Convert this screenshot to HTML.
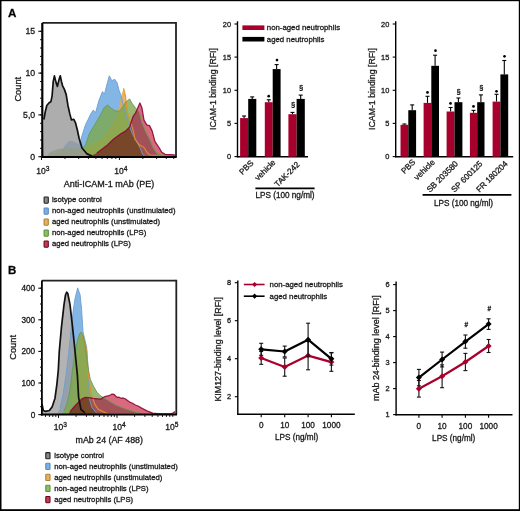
<!DOCTYPE html>
<html><head><meta charset="utf-8"><style>
html,body{margin:0;padding:0;background:#fff;}
svg{display:block;}
text{font-family:"Liberation Sans",sans-serif;stroke:#1a1a1a;stroke-width:0.3px;}
</style></head><body>
<svg width="520" height="511" viewBox="0 0 520 511" font-family="Liberation Sans, sans-serif">
<rect x="0" y="0" width="520" height="511" fill="#fff"/>
<rect x="0" y="0" width="520" height="1.2" fill="#000"/>
<rect x="0" y="0" width="1.5" height="511" fill="#000"/>
<rect x="518.8" y="0" width="1.2" height="511" fill="#000"/>
<rect x="0" y="509.2" width="520" height="1.8" fill="#000"/>
<text x="8" y="16.8" font-size="11.6" font-weight="bold" fill="#000">A</text>
<text x="8" y="274.4" font-size="11.5" font-weight="bold" fill="#000">B</text>
<polygon points="58.0,157.0 62.0,151.0 65.0,145.0 69.0,141.0 73.0,141.0 76.0,143.0 79.0,144.0 80.9,139.3 85.6,124.4 88.4,119.0 90.2,115.0 93.2,110.1 95.6,112.5 99.0,100.3 102.5,91.5 104.4,94.4 107.4,82.7 109.3,75.8 111.8,80.7 114.7,79.3 117.1,82.7 119.1,90.5 121.0,95.4 122.5,102.0 125.5,113.3 128.3,122.6 132.3,133.8 136.4,140.7 140.5,148.9 142.6,154.4 145.0,156.5 150.0,157.0" fill="#78b0e2" fill-opacity="0.92"/>
<polygon points="50.0,157.0 60.0,152.0 70.0,150.0 80.0,149.0 90.0,146.0 100.0,140.0 110.0,128.0 116.0,118.0 119.5,104.0 121.5,95.0 123.6,88.2 125.5,96.0 127.3,111.4 130.3,120.8 133.0,129.7 135.0,139.3 139.2,144.8 144.0,147.5 147.4,153.0 150.1,155.0 176.0,155.5 176.0,157.0" fill="#e0a850" fill-opacity="0.85"/>
<polygon points="46.0,157.0 50.0,152.0 58.0,149.0 68.0,148.0 76.0,148.5 81.9,148.5 85.6,144.8 89.3,133.7 94.9,124.4 100.4,115.1 104.1,107.7 107.8,104.9 110.6,107.7 114.3,110.5 119.0,111.4 122.0,108.0 126.0,102.0 129.6,98.9 132.3,103.7 136.4,109.2 139.2,111.9 141.9,122.9 145.3,131.1 149.5,139.3 152.9,147.5 157.0,153.7 161.1,155.0 170.0,156.0 176.0,157.0" fill="#7da84e" fill-opacity="0.8"/>
<polygon points="43.0,157.0 43.9,119.5 45.2,112.0 46.8,105.5 49.1,102.8 50.9,101.7 52.1,95.8 53.2,81.7 54.4,75.9 56.2,82.9 57.4,86.4 59.1,79.4 60.3,75.9 61.5,81.7 62.6,85.8 64.4,89.4 66.2,94.6 67.9,105.2 69.7,113.4 71.4,119.9 73.8,119.3 75.5,122.8 77.3,129.8 79.1,138.2 82.0,148.0 87.0,153.9 92.0,156.0 100.0,156.5 100.0,157.0" fill="#989898" fill-opacity="0.8"/>
<polygon points="88.0,157.0 96.7,153.2 107.8,144.8 113.4,139.3 120.8,133.7 125.5,131.1 129.6,127.0 133.0,116.7 135.8,112.6 139.9,103.0 141.9,107.8 144.0,120.1 146.7,124.9 149.5,125.6 152.2,131.1 154.9,141.4 159.0,147.5 161.8,152.3 165.2,154.4 174.8,155.0 176.0,157.0" fill="#d86a7e" fill-opacity="1" style="mix-blend-mode:multiply"/>
<defs><clipPath id="cp1"><polygon points="88.0,157.0 96.7,153.2 107.8,144.8 113.4,139.3 120.8,133.7 125.5,131.1 129.6,127.0 133.0,116.7 135.8,112.6 139.9,103.0 141.9,107.8 144.0,120.1 146.7,124.9 149.5,125.6 152.2,131.1 154.9,141.4 159.0,147.5 161.8,152.3 165.2,154.4 174.8,155.0 176.0,157.0"/></clipPath><mask id="mk1" maskUnits="userSpaceOnUse" x="0" y="0" width="520" height="511"><polygon points="46.0,157.0 50.0,152.0 58.0,149.0 68.0,148.0 76.0,148.5 81.9,148.5 85.6,144.8 89.3,133.7 94.9,124.4 100.4,115.1 104.1,107.7 107.8,104.9 110.6,107.7 114.3,110.5 119.0,111.4 122.0,108.0 126.0,102.0 129.6,98.9 132.3,103.7 136.4,109.2 139.2,111.9 141.9,122.9 145.3,131.1 149.5,139.3 152.9,147.5 157.0,153.7 161.1,155.0 170.0,156.0 176.0,157.0" fill="#fff"/><polygon points="58.0,157.0 62.0,151.0 65.0,145.0 69.0,141.0 73.0,141.0 76.0,143.0 79.0,144.0 80.9,139.3 85.6,124.4 88.4,119.0 90.2,115.0 93.2,110.1 95.6,112.5 99.0,100.3 102.5,91.5 104.4,94.4 107.4,82.7 109.3,75.8 111.8,80.7 114.7,79.3 117.1,82.7 119.1,90.5 121.0,95.4 122.5,102.0 125.5,113.3 128.3,122.6 132.3,133.8 136.4,140.7 140.5,148.9 142.6,154.4 145.0,156.5 150.0,157.0" fill="#000"/></mask></defs>
<g clip-path="url(#cp1)"><rect x="0" y="0" width="520" height="511" fill="#a5525c" fill-opacity="0.9" mask="url(#mk1)"/></g>
<polyline points="80.9,139.3 85.6,124.4 88.4,119.0 90.2,115.0 93.2,110.1 95.6,112.5 99.0,100.3 102.5,91.5 104.4,94.4 107.4,82.7 109.3,75.8 111.8,80.7 114.7,79.3 117.1,82.7 119.1,90.5 121.0,95.4 122.5,102.0 125.5,113.3 128.3,122.6 132.3,133.8 136.4,140.7 140.5,148.9 142.6,154.4 145.0,156.5" fill="none" stroke="#6a9ed0" stroke-width="1.0" stroke-linejoin="round" stroke-opacity="0.9"/>
<polyline points="123.6,88.2 125.5,96.0 127.3,111.4 130.3,120.8 133.0,129.7 135.0,139.3 139.2,144.8 144.0,147.5 147.4,153.0 150.1,155.0 176.0,155.5" fill="none" stroke="#e8902a" stroke-width="1.1" stroke-linejoin="round" stroke-opacity="0.9"/>
<polyline points="81.9,148.5 85.6,144.8 89.3,133.7 94.9,124.4 100.4,115.1 104.1,107.7 107.8,104.9 110.6,107.7 114.3,110.5 119.0,111.4 122.0,108.0 126.0,102.0 129.6,98.9 132.3,103.7 136.4,109.2 139.2,111.9 141.9,122.9 145.3,131.1 149.5,139.3 152.9,147.5 157.0,153.7 161.1,155.0 170.0,156.0" fill="none" stroke="#6a9a50" stroke-width="1.0" stroke-linejoin="round" stroke-opacity="0.9"/>
<polyline points="96.7,153.2 107.8,144.8 113.4,139.3 120.8,133.7 125.5,131.1 129.6,127.0 133.0,116.7 135.8,112.6 139.9,103.0 141.9,107.8 144.0,120.1 146.7,124.9 149.5,125.6 152.2,131.1 154.9,141.4 159.0,147.5 161.8,152.3 165.2,154.4 174.8,155.0" fill="none" stroke="#8c0a36" stroke-width="1.3" stroke-linejoin="round" stroke-opacity="0.9"/>
<polyline points="43.9,119.5 45.2,112.0 46.8,105.5 49.1,102.8 50.9,101.7 52.1,95.8 53.2,81.7 54.4,75.9 56.2,82.9 57.4,86.4 59.1,79.4 60.3,75.9 61.5,81.7 62.6,85.8 64.4,89.4 66.2,94.6 67.9,105.2 69.7,113.4 71.4,119.9 73.8,119.3 75.5,122.8 77.3,129.8 79.1,138.2 82.0,148.0 87.0,153.9 92.0,156.0" fill="none" stroke="#111" stroke-width="1.7" stroke-linejoin="round"/>
<line x1="176" y1="22.099999999999998" x2="176" y2="157" stroke="#222" stroke-width="1.8"/>
<line x1="42.3" y1="22.9" x2="176" y2="22.9" stroke="#222" stroke-width="1.6"/>
<line x1="42.3" y1="22.9" x2="42.3" y2="158" stroke="#000" stroke-width="2.2"/>
<line x1="41.3" y1="157" x2="176.7" y2="157" stroke="#000" stroke-width="2"/>
<line x1="38.3" y1="31.3" x2="42" y2="31.3" stroke="#111" stroke-width="1.1"/>
<text x="35.2" y="34.3" font-size="8.7" text-anchor="end" fill="#1a1a1a" >15</text>
<line x1="38.3" y1="73.1" x2="42" y2="73.1" stroke="#111" stroke-width="1.1"/>
<text x="35.2" y="76.1" font-size="8.7" text-anchor="end" fill="#1a1a1a" >10</text>
<line x1="38.3" y1="114.9" x2="42" y2="114.9" stroke="#111" stroke-width="1.1"/>
<text x="35.2" y="117.89999999999999" font-size="8.7" text-anchor="end" fill="#1a1a1a" >5,0</text>
<line x1="38.3" y1="156.7" x2="42" y2="156.7" stroke="#111" stroke-width="1.1"/>
<text x="35.2" y="159.7" font-size="8.7" text-anchor="end" fill="#1a1a1a" >0</text>
<line x1="40" y1="156.7" x2="42" y2="156.7" stroke="#111" stroke-width="1"/>
<line x1="40" y1="148.3" x2="42" y2="148.3" stroke="#111" stroke-width="1"/>
<line x1="40" y1="140.0" x2="42" y2="140.0" stroke="#111" stroke-width="1"/>
<line x1="40" y1="131.6" x2="42" y2="131.6" stroke="#111" stroke-width="1"/>
<line x1="40" y1="123.3" x2="42" y2="123.3" stroke="#111" stroke-width="1"/>
<line x1="40" y1="114.9" x2="42" y2="114.9" stroke="#111" stroke-width="1"/>
<line x1="40" y1="106.5" x2="42" y2="106.5" stroke="#111" stroke-width="1"/>
<line x1="40" y1="98.2" x2="42" y2="98.2" stroke="#111" stroke-width="1"/>
<line x1="40" y1="89.8" x2="42" y2="89.8" stroke="#111" stroke-width="1"/>
<line x1="40" y1="81.5" x2="42" y2="81.5" stroke="#111" stroke-width="1"/>
<line x1="40" y1="73.1" x2="42" y2="73.1" stroke="#111" stroke-width="1"/>
<line x1="40" y1="64.7" x2="42" y2="64.7" stroke="#111" stroke-width="1"/>
<line x1="40" y1="56.4" x2="42" y2="56.4" stroke="#111" stroke-width="1"/>
<line x1="40" y1="48.0" x2="42" y2="48.0" stroke="#111" stroke-width="1"/>
<line x1="40" y1="39.7" x2="42" y2="39.7" stroke="#111" stroke-width="1"/>
<line x1="40" y1="31.3" x2="42" y2="31.3" stroke="#111" stroke-width="1"/>
<line x1="41.5" y1="157" x2="41.5" y2="160" stroke="#111" stroke-width="1"/>
<line x1="65.0" y1="157" x2="65.0" y2="159" stroke="#111" stroke-width="1"/>
<line x1="78.7" y1="157" x2="78.7" y2="159" stroke="#111" stroke-width="1"/>
<line x1="88.4" y1="157" x2="88.4" y2="159" stroke="#111" stroke-width="1"/>
<line x1="95.9" y1="157" x2="95.9" y2="159" stroke="#111" stroke-width="1"/>
<line x1="102.1" y1="157" x2="102.1" y2="159" stroke="#111" stroke-width="1"/>
<line x1="107.3" y1="157" x2="107.3" y2="159" stroke="#111" stroke-width="1"/>
<line x1="111.9" y1="157" x2="111.9" y2="159" stroke="#111" stroke-width="1"/>
<line x1="115.8" y1="157" x2="115.8" y2="159" stroke="#111" stroke-width="1"/>
<line x1="119.4" y1="157" x2="119.4" y2="160" stroke="#111" stroke-width="1"/>
<line x1="142.9" y1="157" x2="142.9" y2="159" stroke="#111" stroke-width="1"/>
<line x1="156.6" y1="157" x2="156.6" y2="159" stroke="#111" stroke-width="1"/>
<line x1="166.3" y1="157" x2="166.3" y2="159" stroke="#111" stroke-width="1"/>
<line x1="173.8" y1="157" x2="173.8" y2="159" stroke="#111" stroke-width="1"/>
<text x="36.2" y="173.8" font-size="8.5" text-anchor="start" fill="#1a1a1a" >10<tspan font-size="6.6" dy="-3.3">3</tspan></text>
<text x="114.2" y="173.8" font-size="8.5" text-anchor="start" fill="#1a1a1a" >10<tspan font-size="6.6" dy="-3.3">4</tspan></text>
<text x="63.8" y="186.8" font-size="9" text-anchor="start" fill="#1a1a1a" >Anti-ICAM-1 mAb (PE)</text>
<text x="20.8" y="89.2" font-size="9.3" text-anchor="middle" fill="#1a1a1a" transform="rotate(-90 20.8 89.2)">Count</text>
<rect x="44.1" y="197.0" width="4.2" height="6.2" rx="0.6" fill="#888" stroke="#222" stroke-width="1.1"/>
<text x="51.9" y="202.2" font-size="7.72" text-anchor="start" fill="#1a1a1a" >isotype control</text>
<rect x="44.1" y="208.0" width="4.2" height="6.2" rx="0.6" fill="#78b0e2" stroke="#5a8ac0" stroke-width="1.1"/>
<text x="51.9" y="213.2" font-size="7.72" text-anchor="start" fill="#1a1a1a" >non-aged neutrophils (unstimulated)</text>
<rect x="44.1" y="219.0" width="4.2" height="6.2" rx="0.6" fill="#e8b060" stroke="#b08030" stroke-width="1.1"/>
<text x="51.9" y="224.2" font-size="7.72" text-anchor="start" fill="#1a1a1a" >aged neutrophils (unstimulated)</text>
<rect x="44.1" y="230.0" width="4.2" height="6.2" rx="0.6" fill="#90c060" stroke="#5a9040" stroke-width="1.1"/>
<text x="51.9" y="235.2" font-size="7.72" text-anchor="start" fill="#1a1a1a" >non-aged neutrophils (LPS)</text>
<rect x="44.1" y="241.0" width="4.2" height="6.2" rx="0.6" fill="#c04050" stroke="#700020" stroke-width="1.1"/>
<text x="51.9" y="246.2" font-size="7.72" text-anchor="start" fill="#1a1a1a" >aged neutrophils (LPS)</text>
<line x1="237.5" y1="21.3" x2="237.5" y2="157.2" stroke="#000" stroke-width="1.4"/>
<line x1="236.8" y1="156.7" x2="308" y2="156.7" stroke="#000" stroke-width="1.4"/>
<line x1="234.5" y1="156.6" x2="237.5" y2="156.6" stroke="#000" stroke-width="1.1"/>
<text x="231.1" y="159.29999999999998" font-size="7.4" text-anchor="end" fill="#1a1a1a" >0</text>
<line x1="234.5" y1="123.4" x2="237.5" y2="123.4" stroke="#000" stroke-width="1.1"/>
<text x="231.1" y="126.14999999999999" font-size="7.4" text-anchor="end" fill="#1a1a1a" >5</text>
<line x1="234.5" y1="90.3" x2="237.5" y2="90.3" stroke="#000" stroke-width="1.1"/>
<text x="231.1" y="93.0" font-size="7.4" text-anchor="end" fill="#1a1a1a" >10</text>
<line x1="234.5" y1="57.1" x2="237.5" y2="57.1" stroke="#000" stroke-width="1.1"/>
<text x="231.1" y="59.849999999999994" font-size="7.4" text-anchor="end" fill="#1a1a1a" >15</text>
<line x1="234.5" y1="24.0" x2="237.5" y2="24.0" stroke="#000" stroke-width="1.1"/>
<text x="231.1" y="26.7" font-size="7.4" text-anchor="end" fill="#1a1a1a" >20</text>
<line x1="244.1" y1="116.0" x2="244.1" y2="118.1" stroke="#000" stroke-width="1.1"/>
<line x1="242.1" y1="116.0" x2="246.1" y2="116.0" stroke="#000" stroke-width="1.1"/>
<rect x="240.1" y="118.1" width="8.1" height="38.6" fill="#a8002c"/>
<line x1="252.2" y1="96.9" x2="252.2" y2="98.9" stroke="#000" stroke-width="1.1"/>
<line x1="250.2" y1="96.9" x2="254.2" y2="96.9" stroke="#000" stroke-width="1.1"/>
<rect x="248.2" y="98.9" width="8.1" height="57.8" fill="#000"/>
<line x1="268.8" y1="99.8" x2="268.8" y2="102.2" stroke="#000" stroke-width="1.1"/>
<line x1="266.8" y1="99.8" x2="270.8" y2="99.8" stroke="#000" stroke-width="1.1"/>
<rect x="264.8" y="102.2" width="7.9" height="54.5" fill="#a8002c"/>
<line x1="276.6" y1="64.6" x2="276.6" y2="69.1" stroke="#000" stroke-width="1.1"/>
<line x1="274.6" y1="64.6" x2="278.6" y2="64.6" stroke="#000" stroke-width="1.1"/>
<rect x="272.7" y="69.1" width="7.9" height="87.6" fill="#000"/>
<line x1="292.5" y1="112.4" x2="292.5" y2="114.2" stroke="#000" stroke-width="1.1"/>
<line x1="290.5" y1="112.4" x2="294.5" y2="112.4" stroke="#000" stroke-width="1.1"/>
<rect x="288.4" y="114.2" width="8.2" height="42.5" fill="#a8002c"/>
<line x1="300.7" y1="95.1" x2="300.7" y2="98.9" stroke="#000" stroke-width="1.1"/>
<line x1="298.7" y1="95.1" x2="302.7" y2="95.1" stroke="#000" stroke-width="1.1"/>
<rect x="296.6" y="98.9" width="8.2" height="57.8" fill="#000"/>
<circle cx="268.7" cy="96.2" r="1.35" fill="#000"/>
<circle cx="277" cy="60.1" r="1.35" fill="#000"/>
<text x="293.1" y="106.8" font-size="7.6" text-anchor="middle" fill="#222" >§</text>
<text x="301.1" y="89.8" font-size="7.6" text-anchor="middle" fill="#222" >§</text>
<text x="254.1" y="163.6" font-size="8.2" text-anchor="end" fill="#1a1a1a" transform="rotate(-45 254.1 163.6)">PBS</text>
<text x="276.1" y="163" font-size="8.2" text-anchor="end" fill="#1a1a1a" transform="rotate(-45 276.1 163)">vehicle</text>
<text x="300.2" y="165" font-size="8.2" text-anchor="end" fill="#1a1a1a" transform="rotate(-45 300.2 165)">TAK-242</text>
<line x1="255.4" y1="188.4" x2="314.6" y2="188.4" stroke="#000" stroke-width="1.7"/>
<text x="285" y="198.3" font-size="8.2" text-anchor="middle" fill="#1a1a1a" >LPS (100 ng/ml)</text>
<text x="215.8" y="89" font-size="8.8" text-anchor="middle" fill="#1a1a1a" textLength="82" lengthAdjust="spacingAndGlyphs" transform="rotate(-90 215.8 89)">ICAM-1 binding [RFI]</text>
<rect x="242.4" y="25.4" width="22" height="4.6" fill="#a8002c"/>
<rect x="242.4" y="36.9" width="22" height="4.6" fill="#000"/>
<text x="266.8" y="30.2" font-size="7.8" text-anchor="start" fill="#1a1a1a" >non-aged neutrophils</text>
<text x="266.8" y="41.6" font-size="7.8" text-anchor="start" fill="#1a1a1a" >aged neutrophils</text>
<line x1="395.7" y1="21.3" x2="395.7" y2="157.2" stroke="#000" stroke-width="1.4"/>
<line x1="395.0" y1="156.7" x2="513.2" y2="156.7" stroke="#000" stroke-width="1.4"/>
<line x1="392.7" y1="156.6" x2="395.7" y2="156.6" stroke="#000" stroke-width="1.1"/>
<text x="389.3" y="159.29999999999998" font-size="7.4" text-anchor="end" fill="#1a1a1a" >0</text>
<line x1="392.7" y1="123.4" x2="395.7" y2="123.4" stroke="#000" stroke-width="1.1"/>
<text x="389.3" y="126.14999999999999" font-size="7.4" text-anchor="end" fill="#1a1a1a" >5</text>
<line x1="392.7" y1="90.3" x2="395.7" y2="90.3" stroke="#000" stroke-width="1.1"/>
<text x="389.3" y="93.0" font-size="7.4" text-anchor="end" fill="#1a1a1a" >10</text>
<line x1="392.7" y1="57.1" x2="395.7" y2="57.1" stroke="#000" stroke-width="1.1"/>
<text x="389.3" y="59.849999999999994" font-size="7.4" text-anchor="end" fill="#1a1a1a" >15</text>
<line x1="392.7" y1="24.0" x2="395.7" y2="24.0" stroke="#000" stroke-width="1.1"/>
<text x="389.3" y="26.7" font-size="7.4" text-anchor="end" fill="#1a1a1a" >20</text>
<line x1="404.4" y1="124.0" x2="404.4" y2="124.8" stroke="#000" stroke-width="1.1"/>
<line x1="402.4" y1="124.0" x2="406.4" y2="124.0" stroke="#000" stroke-width="1.1"/>
<rect x="400.5" y="124.8" width="7.8" height="31.9" fill="#a8002c"/>
<line x1="412.2" y1="104.9" x2="412.2" y2="110.2" stroke="#000" stroke-width="1.1"/>
<line x1="410.2" y1="104.9" x2="414.2" y2="104.9" stroke="#000" stroke-width="1.1"/>
<rect x="408.3" y="110.2" width="7.8" height="46.5" fill="#000"/>
<line x1="427.5" y1="96.3" x2="427.5" y2="102.9" stroke="#000" stroke-width="1.1"/>
<line x1="425.5" y1="96.3" x2="429.5" y2="96.3" stroke="#000" stroke-width="1.1"/>
<rect x="423.6" y="102.9" width="7.7" height="53.8" fill="#a8002c"/>
<line x1="435.1" y1="55.2" x2="435.1" y2="65.8" stroke="#000" stroke-width="1.1"/>
<line x1="433.1" y1="55.2" x2="437.1" y2="55.2" stroke="#000" stroke-width="1.1"/>
<rect x="431.3" y="65.8" width="7.7" height="90.9" fill="#000"/>
<line x1="450.6" y1="107.5" x2="450.6" y2="111.5" stroke="#000" stroke-width="1.1"/>
<line x1="448.6" y1="107.5" x2="452.6" y2="107.5" stroke="#000" stroke-width="1.1"/>
<rect x="446.6" y="111.5" width="7.9" height="45.2" fill="#a8002c"/>
<line x1="458.4" y1="98.0" x2="458.4" y2="102.2" stroke="#000" stroke-width="1.1"/>
<line x1="456.4" y1="98.0" x2="460.4" y2="98.0" stroke="#000" stroke-width="1.1"/>
<rect x="454.5" y="102.2" width="7.9" height="54.5" fill="#000"/>
<line x1="473.5" y1="110.4" x2="473.5" y2="112.8" stroke="#000" stroke-width="1.1"/>
<line x1="471.5" y1="110.4" x2="475.5" y2="110.4" stroke="#000" stroke-width="1.1"/>
<rect x="469.9" y="112.8" width="7.3" height="43.9" fill="#a8002c"/>
<line x1="480.9" y1="94.9" x2="480.9" y2="102.2" stroke="#000" stroke-width="1.1"/>
<line x1="478.9" y1="94.9" x2="482.9" y2="94.9" stroke="#000" stroke-width="1.1"/>
<rect x="477.2" y="102.2" width="7.3" height="54.5" fill="#000"/>
<line x1="496.5" y1="94.3" x2="496.5" y2="101.6" stroke="#000" stroke-width="1.1"/>
<line x1="494.5" y1="94.3" x2="498.5" y2="94.3" stroke="#000" stroke-width="1.1"/>
<rect x="492.6" y="101.6" width="7.8" height="55.1" fill="#a8002c"/>
<line x1="504.3" y1="60.5" x2="504.3" y2="74.4" stroke="#000" stroke-width="1.1"/>
<line x1="502.3" y1="60.5" x2="506.3" y2="60.5" stroke="#000" stroke-width="1.1"/>
<rect x="500.4" y="74.4" width="7.8" height="82.3" fill="#000"/>
<circle cx="427.5" cy="92.4" r="1.35" fill="#000"/>
<circle cx="435.5" cy="50.699999999999996" r="1.35" fill="#000"/>
<circle cx="450.5" cy="103.4" r="1.35" fill="#000"/>
<circle cx="473.5" cy="106.4" r="1.35" fill="#000"/>
<circle cx="496.5" cy="91.30000000000001" r="1.35" fill="#000"/>
<circle cx="504.5" cy="56.3" r="1.35" fill="#000"/>
<text x="458.5" y="93.6" font-size="7.6" text-anchor="middle" fill="#222" >§</text>
<text x="481.3" y="90.3" font-size="7.6" text-anchor="middle" fill="#222" >§</text>
<text x="416" y="162.7" font-size="8.2" text-anchor="end" fill="#1a1a1a" transform="rotate(-45 416 162.7)">PBS</text>
<text x="435.4" y="162.7" font-size="8.2" text-anchor="end" fill="#1a1a1a" transform="rotate(-45 435.4 162.7)">vehicle</text>
<text x="458.6" y="164.2" font-size="8.2" text-anchor="end" fill="#1a1a1a" transform="rotate(-45 458.6 164.2)">SB 203580</text>
<text x="483.1" y="164.2" font-size="8.2" text-anchor="end" fill="#1a1a1a" transform="rotate(-45 483.1 164.2)">SP 600125</text>
<text x="508.2" y="164.2" font-size="8.2" text-anchor="end" fill="#1a1a1a" transform="rotate(-45 508.2 164.2)">FR 180204</text>
<line x1="422.6" y1="194.8" x2="511.4" y2="194.8" stroke="#000" stroke-width="1.7"/>
<text x="463.5" y="205.6" font-size="8.2" text-anchor="middle" fill="#1a1a1a" >LPS (100 ng/ml)</text>
<text x="375.2" y="89" font-size="8.8" text-anchor="middle" fill="#1a1a1a" textLength="82" lengthAdjust="spacingAndGlyphs" transform="rotate(-90 375.2 89)">ICAM-1 binding [RFI]</text>
<polygon points="57.0,414.3 60.0,408.0 63.0,395.0 66.0,375.0 69.0,350.0 71.5,325.0 73.3,310.0 75.2,297.7 77.7,287.9 80.1,294.8 81.6,309.5 83.0,332.0 86.7,347.6 88.5,374.1 89.4,398.8 92.0,407.6 96.4,412.9 100.0,414.3" fill="#78b0e2" fill-opacity="0.92"/>
<polygon points="64.0,414.3 70.0,405.0 74.0,385.0 77.0,360.0 79.5,340.0 81.5,335.0 84.0,339.0 86.7,351.2 88.5,375.8 91.1,393.5 94.7,404.1 98.2,409.4 107.3,413.6 175.0,413.8 175.0,414.3" fill="#e0a850" fill-opacity="0.85"/>
<polygon points="42.0,414.3 42.0,404.0 43.3,410.5 45.6,411.4 49.4,410.5 52.2,406.7 55.0,398.2 56.9,384.1 58.3,370.0 59.3,351.0 61.5,326.6 64.0,304.6 65.5,295.0 66.6,292.2 67.8,293.5 70.0,304.6 72.5,326.6 75.0,351.0 77.4,375.4 78.6,397.3 81.0,409.5 85.0,412.9 95.0,414.0 95.0,414.3" fill="#999999" fill-opacity="0.75"/>
<polygon points="61.0,414.3 64.0,411.0 67.0,404.0 70.0,390.0 72.6,369.0 75.0,352.0 77.5,340.0 79.5,334.0 81.2,332.0 83.0,336.0 85.0,344.1 87.6,365.3 90.3,379.4 93.5,386.2 96.9,392.2 100.4,395.7 103.0,397.4 107.3,400.0 116.0,405.2 124.6,408.7 135.0,412.1 142.0,413.8 150.0,414.3" fill="#7da84e" fill-opacity="0.8"/>
<polygon points="68.0,414.3 70.0,411.7 75.8,405.0 81.5,399.2 85.4,397.3 89.0,397.6 93.0,398.3 97.0,398.8 100.8,399.2 103.0,397.5 105.6,396.3 108.0,395.8 110.4,395.0 112.0,394.2 114.2,394.4 115.5,396.0 117.1,397.3 119.0,397.2 121.0,398.3 123.0,398.0 125.8,399.2 129.6,402.1 132.0,403.0 135.4,405.0 138.0,406.0 141.2,407.9 146.9,410.8 152.7,413.1 160.4,414.0 170.0,414.0 173.0,413.0 175.0,411.5 175.5,414.3" fill="#d86a7e" fill-opacity="1" style="mix-blend-mode:multiply"/>
<defs><clipPath id="cp2"><polygon points="68.0,414.3 70.0,411.7 75.8,405.0 81.5,399.2 85.4,397.3 89.0,397.6 93.0,398.3 97.0,398.8 100.8,399.2 103.0,397.5 105.6,396.3 108.0,395.8 110.4,395.0 112.0,394.2 114.2,394.4 115.5,396.0 117.1,397.3 119.0,397.2 121.0,398.3 123.0,398.0 125.8,399.2 129.6,402.1 132.0,403.0 135.4,405.0 138.0,406.0 141.2,407.9 146.9,410.8 152.7,413.1 160.4,414.0 170.0,414.0 173.0,413.0 175.0,411.5 175.5,414.3"/></clipPath><mask id="mk2" maskUnits="userSpaceOnUse" x="0" y="0" width="520" height="511"><polygon points="61.0,414.3 64.0,411.0 67.0,404.0 70.0,390.0 72.6,369.0 75.0,352.0 77.5,340.0 79.5,334.0 81.2,332.0 83.0,336.0 85.0,344.1 87.6,365.3 90.3,379.4 93.5,386.2 96.9,392.2 100.4,395.7 103.0,397.4 107.3,400.0 116.0,405.2 124.6,408.7 135.0,412.1 142.0,413.8 150.0,414.3" fill="#fff"/><polygon points="57.0,414.3 60.0,408.0 63.0,395.0 66.0,375.0 69.0,350.0 71.5,325.0 73.3,310.0 75.2,297.7 77.7,287.9 80.1,294.8 81.6,309.5 83.0,332.0 86.7,347.6 88.5,374.1 89.4,398.8 92.0,407.6 96.4,412.9 100.0,414.3" fill="#000"/></mask></defs>
<g clip-path="url(#cp2)"><rect x="0" y="0" width="520" height="511" fill="#a5525c" fill-opacity="0.9" mask="url(#mk2)"/></g>
<polyline points="60.0,408.0 63.0,395.0 66.0,375.0 69.0,350.0 71.5,325.0 73.3,310.0 75.2,297.7 77.7,287.9 80.1,294.8 81.6,309.5 83.0,332.0 86.7,347.6 88.5,374.1 89.4,398.8 92.0,407.6 96.4,412.9" fill="none" stroke="#6a9ed0" stroke-width="1.0" stroke-linejoin="round" stroke-opacity="0.9"/>
<polyline points="81.5,335.0 84.0,339.0 86.7,351.2 88.5,375.8 91.1,393.5 94.7,404.1 98.2,409.4 107.3,413.6 175.0,413.8" fill="none" stroke="#e8902a" stroke-width="1.2" stroke-linejoin="round" stroke-opacity="0.9"/>
<polyline points="64.0,411.0 67.0,404.0 70.0,390.0 72.6,369.0 75.0,352.0 77.5,340.0 79.5,334.0 81.2,332.0 83.0,336.0 85.0,344.1 87.6,365.3 90.3,379.4 93.5,386.2 96.9,392.2 100.4,395.7 103.0,397.4 107.3,400.0 116.0,405.2 124.6,408.7 135.0,412.1 142.0,413.8" fill="none" stroke="#6a9a50" stroke-width="1.0" stroke-linejoin="round" stroke-opacity="0.9"/>
<polyline points="70.0,411.7 75.8,405.0 81.5,399.2 85.4,397.3 89.0,397.6 93.0,398.3 97.0,398.8 100.8,399.2 103.0,397.5 105.6,396.3 108.0,395.8 110.4,395.0 112.0,394.2 114.2,394.4 115.5,396.0 117.1,397.3 119.0,397.2 121.0,398.3 123.0,398.0 125.8,399.2 129.6,402.1 132.0,403.0 135.4,405.0 138.0,406.0 141.2,407.9 146.9,410.8 152.7,413.1 160.4,414.0 170.0,414.0 173.0,413.0 175.0,411.5" fill="none" stroke="#8c0a36" stroke-width="1.3" stroke-linejoin="round" stroke-opacity="0.9"/>
<polyline points="42.0,404.0 43.3,410.5 45.6,411.4 49.4,410.5 52.2,406.7 55.0,398.2 56.9,384.1 58.3,370.0 59.3,351.0 61.5,326.6 64.0,304.6 65.5,295.0 66.6,292.2 67.8,293.5 70.0,304.6 72.5,326.6 75.0,351.0 77.4,375.4 78.6,397.3 81.0,409.5 85.0,412.9" fill="none" stroke="#111" stroke-width="1.7" stroke-linejoin="round"/>
<line x1="176.3" y1="279.8" x2="176.3" y2="414.4" stroke="#222" stroke-width="1.8"/>
<line x1="41.9" y1="280.6" x2="176.3" y2="280.6" stroke="#222" stroke-width="1.6"/>
<line x1="41.9" y1="280.6" x2="41.9" y2="415.4" stroke="#000" stroke-width="1.8"/>
<line x1="40.9" y1="414.4" x2="177.0" y2="414.4" stroke="#000" stroke-width="2"/>
<line x1="38.3" y1="414.6" x2="42" y2="414.6" stroke="#111" stroke-width="1.1"/>
<text x="35.2" y="417.5" font-size="8.2" text-anchor="end" fill="#1a1a1a" >0</text>
<line x1="38.3" y1="383.0" x2="42" y2="383.0" stroke="#111" stroke-width="1.1"/>
<text x="35.2" y="385.9" font-size="8.2" text-anchor="end" fill="#1a1a1a" >100</text>
<line x1="38.3" y1="351.4" x2="42" y2="351.4" stroke="#111" stroke-width="1.1"/>
<text x="35.2" y="354.3" font-size="8.2" text-anchor="end" fill="#1a1a1a" >200</text>
<line x1="38.3" y1="319.8" x2="42" y2="319.8" stroke="#111" stroke-width="1.1"/>
<text x="35.2" y="322.7" font-size="8.2" text-anchor="end" fill="#1a1a1a" >300</text>
<line x1="38.3" y1="288.2" x2="42" y2="288.2" stroke="#111" stroke-width="1.1"/>
<text x="35.2" y="291.1" font-size="8.2" text-anchor="end" fill="#1a1a1a" >400</text>
<line x1="40" y1="414.6" x2="42" y2="414.6" stroke="#111" stroke-width="1"/>
<line x1="40" y1="406.7" x2="42" y2="406.7" stroke="#111" stroke-width="1"/>
<line x1="40" y1="398.8" x2="42" y2="398.8" stroke="#111" stroke-width="1"/>
<line x1="40" y1="390.9" x2="42" y2="390.9" stroke="#111" stroke-width="1"/>
<line x1="40" y1="383.0" x2="42" y2="383.0" stroke="#111" stroke-width="1"/>
<line x1="40" y1="375.1" x2="42" y2="375.1" stroke="#111" stroke-width="1"/>
<line x1="40" y1="367.2" x2="42" y2="367.2" stroke="#111" stroke-width="1"/>
<line x1="40" y1="359.3" x2="42" y2="359.3" stroke="#111" stroke-width="1"/>
<line x1="40" y1="351.4" x2="42" y2="351.4" stroke="#111" stroke-width="1"/>
<line x1="40" y1="343.5" x2="42" y2="343.5" stroke="#111" stroke-width="1"/>
<line x1="40" y1="335.6" x2="42" y2="335.6" stroke="#111" stroke-width="1"/>
<line x1="40" y1="327.7" x2="42" y2="327.7" stroke="#111" stroke-width="1"/>
<line x1="40" y1="319.8" x2="42" y2="319.8" stroke="#111" stroke-width="1"/>
<line x1="40" y1="311.9" x2="42" y2="311.9" stroke="#111" stroke-width="1"/>
<line x1="40" y1="304.0" x2="42" y2="304.0" stroke="#111" stroke-width="1"/>
<line x1="40" y1="296.1" x2="42" y2="296.1" stroke="#111" stroke-width="1"/>
<line x1="40" y1="288.2" x2="42" y2="288.2" stroke="#111" stroke-width="1"/>
<line x1="45.5" y1="414.4" x2="45.5" y2="416.9" stroke="#111" stroke-width="1"/>
<line x1="49.4" y1="414.4" x2="49.4" y2="416.9" stroke="#111" stroke-width="1"/>
<line x1="52.8" y1="414.4" x2="52.8" y2="416.9" stroke="#111" stroke-width="1"/>
<line x1="55.8" y1="414.4" x2="55.8" y2="416.9" stroke="#111" stroke-width="1"/>
<line x1="58.5" y1="414.4" x2="58.5" y2="417.9" stroke="#111" stroke-width="1"/>
<line x1="76.1" y1="414.4" x2="76.1" y2="416.9" stroke="#111" stroke-width="1"/>
<line x1="86.4" y1="414.4" x2="86.4" y2="416.9" stroke="#111" stroke-width="1"/>
<line x1="93.7" y1="414.4" x2="93.7" y2="416.9" stroke="#111" stroke-width="1"/>
<line x1="99.4" y1="414.4" x2="99.4" y2="416.9" stroke="#111" stroke-width="1"/>
<line x1="104.0" y1="414.4" x2="104.0" y2="416.9" stroke="#111" stroke-width="1"/>
<line x1="107.9" y1="414.4" x2="107.9" y2="416.9" stroke="#111" stroke-width="1"/>
<line x1="111.3" y1="414.4" x2="111.3" y2="416.9" stroke="#111" stroke-width="1"/>
<line x1="114.3" y1="414.4" x2="114.3" y2="416.9" stroke="#111" stroke-width="1"/>
<line x1="117.0" y1="414.4" x2="117.0" y2="417.9" stroke="#111" stroke-width="1"/>
<line x1="134.6" y1="414.4" x2="134.6" y2="416.9" stroke="#111" stroke-width="1"/>
<line x1="144.9" y1="414.4" x2="144.9" y2="416.9" stroke="#111" stroke-width="1"/>
<line x1="152.2" y1="414.4" x2="152.2" y2="416.9" stroke="#111" stroke-width="1"/>
<line x1="157.9" y1="414.4" x2="157.9" y2="416.9" stroke="#111" stroke-width="1"/>
<line x1="162.5" y1="414.4" x2="162.5" y2="416.9" stroke="#111" stroke-width="1"/>
<line x1="166.4" y1="414.4" x2="166.4" y2="416.9" stroke="#111" stroke-width="1"/>
<line x1="169.8" y1="414.4" x2="169.8" y2="416.9" stroke="#111" stroke-width="1"/>
<line x1="172.8" y1="414.4" x2="172.8" y2="416.9" stroke="#111" stroke-width="1"/>
<text x="53.8" y="430" font-size="8.5" text-anchor="start" fill="#1a1a1a" >10<tspan font-size="6.6" dy="-3.3">3</tspan></text>
<text x="112.5" y="430" font-size="8.5" text-anchor="start" fill="#1a1a1a" >10<tspan font-size="6.6" dy="-3.3">4</tspan></text>
<text x="165.2" y="430" font-size="8.5" text-anchor="start" fill="#1a1a1a" >10<tspan font-size="6.6" dy="-3.3">5</tspan></text>
<text x="75.6" y="443" font-size="8.85" text-anchor="start" fill="#1a1a1a" >mAb 24 (AF 488)</text>
<text x="16.1" y="347.4" font-size="9.3" text-anchor="middle" fill="#1a1a1a" transform="rotate(-90 16.1 347.4)">Count</text>
<rect x="45.800000000000004" y="452.6" width="4.2" height="6.2" rx="0.6" fill="#888" stroke="#222" stroke-width="1.1"/>
<text x="54.2" y="457.8" font-size="7.72" text-anchor="start" fill="#1a1a1a" >isotype control</text>
<rect x="45.800000000000004" y="463.3" width="4.2" height="6.2" rx="0.6" fill="#78b0e2" stroke="#5a8ac0" stroke-width="1.1"/>
<text x="54.2" y="468.5" font-size="7.72" text-anchor="start" fill="#1a1a1a" >non-aged neutrophils (unstimulated)</text>
<rect x="45.800000000000004" y="474.3" width="4.2" height="6.2" rx="0.6" fill="#e8b060" stroke="#b08030" stroke-width="1.1"/>
<text x="54.2" y="479.5" font-size="7.72" text-anchor="start" fill="#1a1a1a" >aged neutrophils (unstimulated)</text>
<rect x="45.800000000000004" y="485.3" width="4.2" height="6.2" rx="0.6" fill="#90c060" stroke="#5a9040" stroke-width="1.1"/>
<text x="54.2" y="490.5" font-size="7.72" text-anchor="start" fill="#1a1a1a" >non-aged neutrophils (LPS)</text>
<rect x="45.800000000000004" y="496.5" width="4.2" height="6.2" rx="0.6" fill="#c04050" stroke="#700020" stroke-width="1.1"/>
<text x="54.2" y="501.7" font-size="7.72" text-anchor="start" fill="#1a1a1a" >aged neutrophils (LPS)</text>
<line x1="237.8" y1="280.4" x2="237.8" y2="415.0" stroke="#000" stroke-width="1.4"/>
<line x1="237.10000000000002" y1="414.3" x2="354.8" y2="414.3" stroke="#000" stroke-width="1.4"/>
<line x1="234.8" y1="396.7" x2="237.8" y2="396.7" stroke="#000" stroke-width="1.1"/>
<text x="231.20000000000002" y="399.4" font-size="7.4" text-anchor="end" fill="#1a1a1a" >2</text>
<line x1="234.8" y1="358.7" x2="237.8" y2="358.7" stroke="#000" stroke-width="1.1"/>
<text x="231.20000000000002" y="361.4" font-size="7.4" text-anchor="end" fill="#1a1a1a" >4</text>
<line x1="234.8" y1="320.7" x2="237.8" y2="320.7" stroke="#000" stroke-width="1.1"/>
<text x="231.20000000000002" y="323.4" font-size="7.4" text-anchor="end" fill="#1a1a1a" >6</text>
<line x1="234.8" y1="282.7" x2="237.8" y2="282.7" stroke="#000" stroke-width="1.1"/>
<text x="231.20000000000002" y="285.4" font-size="7.4" text-anchor="end" fill="#1a1a1a" >8</text>
<line x1="261.2" y1="414.3" x2="261.2" y2="417.3" stroke="#000" stroke-width="1.1"/>
<text x="261.2" y="428.3" font-size="8.2" text-anchor="middle" fill="#1a1a1a" >0</text>
<line x1="284.7" y1="414.3" x2="284.7" y2="417.3" stroke="#000" stroke-width="1.1"/>
<text x="284.7" y="428.3" font-size="8.2" text-anchor="middle" fill="#1a1a1a" >10</text>
<line x1="308.1" y1="414.3" x2="308.1" y2="417.3" stroke="#000" stroke-width="1.1"/>
<text x="308.1" y="428.3" font-size="8.2" text-anchor="middle" fill="#1a1a1a" >100</text>
<line x1="331.4" y1="414.3" x2="331.4" y2="417.3" stroke="#000" stroke-width="1.1"/>
<text x="331.4" y="428.3" font-size="8.2" text-anchor="middle" fill="#1a1a1a" >1000</text>
<line x1="261.2" y1="351.5" x2="261.2" y2="364.3" stroke="#111" stroke-width="1.1"/>
<line x1="259.2" y1="351.5" x2="263.2" y2="351.5" stroke="#111" stroke-width="1.1"/>
<line x1="259.2" y1="364.3" x2="263.2" y2="364.3" stroke="#111" stroke-width="1.1"/>
<line x1="284.7" y1="358.0" x2="284.7" y2="376.2" stroke="#111" stroke-width="1.1"/>
<line x1="282.7" y1="358.0" x2="286.7" y2="358.0" stroke="#111" stroke-width="1.1"/>
<line x1="282.7" y1="376.2" x2="286.7" y2="376.2" stroke="#111" stroke-width="1.1"/>
<line x1="308.1" y1="341.4" x2="308.1" y2="369.8" stroke="#111" stroke-width="1.1"/>
<line x1="306.1" y1="341.4" x2="310.1" y2="341.4" stroke="#111" stroke-width="1.1"/>
<line x1="306.1" y1="369.8" x2="310.1" y2="369.8" stroke="#111" stroke-width="1.1"/>
<line x1="331.4" y1="352.9" x2="331.4" y2="371.3" stroke="#111" stroke-width="1.1"/>
<line x1="329.4" y1="352.9" x2="333.4" y2="352.9" stroke="#111" stroke-width="1.1"/>
<line x1="329.4" y1="371.3" x2="333.4" y2="371.3" stroke="#111" stroke-width="1.1"/>
<polyline points="261.2,357.9 284.7,367.1 308.1,355.6 331.4,362.1" fill="none" stroke="#a8002c" stroke-width="2.2" stroke-linejoin="round"/>
<polygon points="261.2,354.9 264.2,357.9 261.2,360.9 258.2,357.9" fill="#a8002c"/>
<polygon points="284.7,364.1 287.7,367.1 284.7,370.1 281.7,367.1" fill="#a8002c"/>
<polygon points="308.1,352.6 311.1,355.6 308.1,358.6 305.1,355.6" fill="#a8002c"/>
<polygon points="331.4,359.1 334.4,362.1 331.4,365.1 328.4,362.1" fill="#a8002c"/>
<line x1="261.2" y1="343.3" x2="261.2" y2="355.3" stroke="#111" stroke-width="1.1"/>
<line x1="259.2" y1="343.3" x2="263.2" y2="343.3" stroke="#111" stroke-width="1.1"/>
<line x1="259.2" y1="355.3" x2="263.2" y2="355.3" stroke="#111" stroke-width="1.1"/>
<line x1="284.7" y1="346.1" x2="284.7" y2="356.9" stroke="#111" stroke-width="1.1"/>
<line x1="282.7" y1="346.1" x2="286.7" y2="346.1" stroke="#111" stroke-width="1.1"/>
<line x1="282.7" y1="356.9" x2="286.7" y2="356.9" stroke="#111" stroke-width="1.1"/>
<line x1="308.1" y1="323.2" x2="308.1" y2="356.2" stroke="#111" stroke-width="1.1"/>
<line x1="306.1" y1="323.2" x2="310.1" y2="323.2" stroke="#111" stroke-width="1.1"/>
<line x1="306.1" y1="356.2" x2="310.1" y2="356.2" stroke="#111" stroke-width="1.1"/>
<line x1="331.4" y1="352.5" x2="331.4" y2="365.1" stroke="#111" stroke-width="1.1"/>
<line x1="329.4" y1="352.5" x2="333.4" y2="352.5" stroke="#111" stroke-width="1.1"/>
<line x1="329.4" y1="365.1" x2="333.4" y2="365.1" stroke="#111" stroke-width="1.1"/>
<polyline points="261.2,349.3 284.7,351.5 308.1,339.7 331.4,358.8" fill="none" stroke="#000" stroke-width="2.2" stroke-linejoin="round"/>
<polygon points="261.2,346.3 264.2,349.3 261.2,352.3 258.2,349.3" fill="#000"/>
<polygon points="284.7,348.5 287.7,351.5 284.7,354.5 281.7,351.5" fill="#000"/>
<polygon points="308.1,336.7 311.1,339.7 308.1,342.7 305.1,339.7" fill="#000"/>
<polygon points="331.4,355.8 334.4,358.8 331.4,361.8 328.4,358.8" fill="#000"/>
<text x="220.8" y="349.3" font-size="8.9" text-anchor="middle" fill="#1a1a1a" textLength="104.6" lengthAdjust="spacingAndGlyphs" transform="rotate(-90 220.8 349.3)">KIM127-binding level [RFI]</text>
<text x="296.6" y="440.3" font-size="8.2" text-anchor="middle" fill="#1a1a1a" >LPS (ng/ml)</text>
<line x1="243.8" y1="284.5" x2="264.6" y2="284.5" stroke="#a8002c" stroke-width="1.6"/>
<polygon points="254.6,281.9 257.2,284.5 254.6,287.1 252.0,284.5" fill="#a8002c"/>
<line x1="243.8" y1="296.2" x2="264.6" y2="296.2" stroke="#000" stroke-width="1.6"/>
<polygon points="254.6,293.59999999999997 257.2,296.2 254.6,298.8 252.0,296.2" fill="#000"/>
<text x="269.6" y="287.3" font-size="7.8" text-anchor="start" fill="#1a1a1a" >non-aged neutrophils</text>
<text x="269.6" y="299" font-size="7.8" text-anchor="start" fill="#1a1a1a" >aged neutrophils</text>
<line x1="396.1" y1="281.4" x2="396.1" y2="415.4" stroke="#000" stroke-width="1.4"/>
<line x1="395.40000000000003" y1="414.7" x2="512.5" y2="414.7" stroke="#000" stroke-width="1.4"/>
<line x1="393.1" y1="414.6" x2="396.1" y2="414.6" stroke="#000" stroke-width="1.1"/>
<text x="389.5" y="417.3" font-size="7.4" text-anchor="end" fill="#1a1a1a" >1</text>
<line x1="393.1" y1="388.6" x2="396.1" y2="388.6" stroke="#000" stroke-width="1.1"/>
<text x="389.5" y="391.3" font-size="7.4" text-anchor="end" fill="#1a1a1a" >2</text>
<line x1="393.1" y1="362.6" x2="396.1" y2="362.6" stroke="#000" stroke-width="1.1"/>
<text x="389.5" y="365.3" font-size="7.4" text-anchor="end" fill="#1a1a1a" >3</text>
<line x1="393.1" y1="336.6" x2="396.1" y2="336.6" stroke="#000" stroke-width="1.1"/>
<text x="389.5" y="339.3" font-size="7.4" text-anchor="end" fill="#1a1a1a" >4</text>
<line x1="393.1" y1="310.6" x2="396.1" y2="310.6" stroke="#000" stroke-width="1.1"/>
<text x="389.5" y="313.3" font-size="7.4" text-anchor="end" fill="#1a1a1a" >5</text>
<line x1="393.1" y1="284.6" x2="396.1" y2="284.6" stroke="#000" stroke-width="1.1"/>
<text x="389.5" y="287.3" font-size="7.4" text-anchor="end" fill="#1a1a1a" >6</text>
<line x1="418.9" y1="414.7" x2="418.9" y2="417.7" stroke="#000" stroke-width="1.1"/>
<text x="418.9" y="428.7" font-size="8.2" text-anchor="middle" fill="#1a1a1a" >0</text>
<line x1="442.1" y1="414.7" x2="442.1" y2="417.7" stroke="#000" stroke-width="1.1"/>
<text x="442.1" y="428.7" font-size="8.2" text-anchor="middle" fill="#1a1a1a" >10</text>
<line x1="465.4" y1="414.7" x2="465.4" y2="417.7" stroke="#000" stroke-width="1.1"/>
<text x="465.4" y="428.7" font-size="8.2" text-anchor="middle" fill="#1a1a1a" >100</text>
<line x1="488.6" y1="414.7" x2="488.6" y2="417.7" stroke="#000" stroke-width="1.1"/>
<text x="488.6" y="428.7" font-size="8.2" text-anchor="middle" fill="#1a1a1a" >1000</text>
<line x1="418.9" y1="380.5" x2="418.9" y2="397.1" stroke="#111" stroke-width="1.1"/>
<line x1="416.9" y1="380.5" x2="420.9" y2="380.5" stroke="#111" stroke-width="1.1"/>
<line x1="416.9" y1="397.1" x2="420.9" y2="397.1" stroke="#111" stroke-width="1.1"/>
<line x1="442.1" y1="364.9" x2="442.1" y2="387.7" stroke="#111" stroke-width="1.1"/>
<line x1="440.1" y1="364.9" x2="444.1" y2="364.9" stroke="#111" stroke-width="1.1"/>
<line x1="440.1" y1="387.7" x2="444.1" y2="387.7" stroke="#111" stroke-width="1.1"/>
<line x1="465.4" y1="353.4" x2="465.4" y2="370.6" stroke="#111" stroke-width="1.1"/>
<line x1="463.4" y1="353.4" x2="467.4" y2="353.4" stroke="#111" stroke-width="1.1"/>
<line x1="463.4" y1="370.6" x2="467.4" y2="370.6" stroke="#111" stroke-width="1.1"/>
<line x1="488.6" y1="339.5" x2="488.6" y2="352.5" stroke="#111" stroke-width="1.1"/>
<line x1="486.6" y1="339.5" x2="490.6" y2="339.5" stroke="#111" stroke-width="1.1"/>
<line x1="486.6" y1="352.5" x2="490.6" y2="352.5" stroke="#111" stroke-width="1.1"/>
<polyline points="418.9,388.8 442.1,376.3 465.4,362.0 488.6,346.0" fill="none" stroke="#a8002c" stroke-width="2.2" stroke-linejoin="round"/>
<polygon points="418.9,385.8 421.9,388.8 418.9,391.8 415.9,388.8" fill="#a8002c"/>
<polygon points="442.1,373.3 445.1,376.3 442.1,379.3 439.1,376.3" fill="#a8002c"/>
<polygon points="465.4,359 468.4,362 465.4,365 462.4,362" fill="#a8002c"/>
<polygon points="488.6,343 491.6,346 488.6,349 485.6,346" fill="#a8002c"/>
<line x1="418.9" y1="369.4" x2="418.9" y2="385.8" stroke="#111" stroke-width="1.1"/>
<line x1="416.9" y1="369.4" x2="420.9" y2="369.4" stroke="#111" stroke-width="1.1"/>
<line x1="416.9" y1="385.8" x2="420.9" y2="385.8" stroke="#111" stroke-width="1.1"/>
<line x1="442.1" y1="352.1" x2="442.1" y2="366.9" stroke="#111" stroke-width="1.1"/>
<line x1="440.1" y1="352.1" x2="444.1" y2="352.1" stroke="#111" stroke-width="1.1"/>
<line x1="440.1" y1="366.9" x2="444.1" y2="366.9" stroke="#111" stroke-width="1.1"/>
<line x1="465.4" y1="335.0" x2="465.4" y2="348.2" stroke="#111" stroke-width="1.1"/>
<line x1="463.4" y1="335.0" x2="467.4" y2="335.0" stroke="#111" stroke-width="1.1"/>
<line x1="463.4" y1="348.2" x2="467.4" y2="348.2" stroke="#111" stroke-width="1.1"/>
<line x1="488.6" y1="318.8" x2="488.6" y2="329.4" stroke="#111" stroke-width="1.1"/>
<line x1="486.6" y1="318.8" x2="490.6" y2="318.8" stroke="#111" stroke-width="1.1"/>
<line x1="486.6" y1="329.4" x2="490.6" y2="329.4" stroke="#111" stroke-width="1.1"/>
<polyline points="418.9,377.6 442.1,359.5 465.4,341.6 488.6,324.1" fill="none" stroke="#000" stroke-width="2.2" stroke-linejoin="round"/>
<polygon points="418.9,374.6 421.9,377.6 418.9,380.6 415.9,377.6" fill="#000"/>
<polygon points="442.1,356.5 445.1,359.5 442.1,362.5 439.1,359.5" fill="#000"/>
<polygon points="465.4,338.6 468.4,341.6 465.4,344.6 462.4,341.6" fill="#000"/>
<polygon points="488.6,321.1 491.6,324.1 488.6,327.1 485.6,324.1" fill="#000"/>
<text x="378.9" y="348.2" font-size="8.9" text-anchor="middle" fill="#1a1a1a" textLength="105.7" lengthAdjust="spacingAndGlyphs" transform="rotate(-90 378.9 348.2)">mAb 24-binding level [RFI]</text>
<text x="453.7" y="441.3" font-size="8.2" text-anchor="middle" fill="#1a1a1a" >LPS (ng/ml)</text>
<text x="466.3" y="327" font-size="6.5" text-anchor="middle" fill="#222" >#</text>
<text x="489.3" y="311.1" font-size="6.5" text-anchor="middle" fill="#222" >#</text>
</svg>
</body></html>
